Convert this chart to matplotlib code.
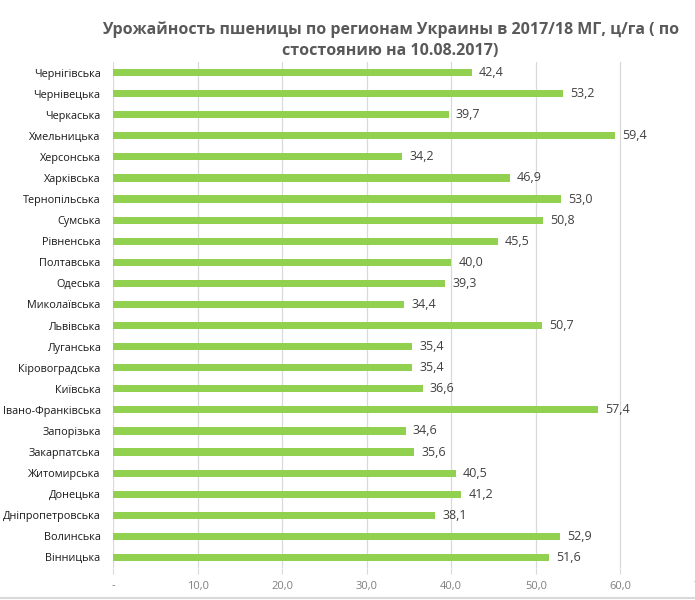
import matplotlib.pyplot as plt
from matplotlib.lines import Line2D

# Регіони (зверху вниз) і врожайність, ц/га
regions = ["Чернігівська", "Чернівецька", "Черкаська", "Хмельницька", "Херсонська",
           "Харківська", "Тернопільська", "Сумська", "Рівненська", "Полтавська",
           "Одеська", "Миколаївська", "Львівська", "Луганська", "Кіровоградська",
           "Київська", "Івано-Франківська", "Запорізька", "Закарпатська", "Житомирська",
           "Донецька", "Дніпропетровська", "Волинська", "Вінницька"]
yields = [42.4, 53.2, 39.7, 59.4, 34.2, 46.9, 53.0, 50.8, 45.5, 40.0, 39.3, 34.4,
          50.7, 35.4, 35.4, 36.6, 57.4, 34.6, 35.6, 40.5, 41.2, 38.1, 52.9, 51.6]
xticks = [0, 10, 20, 30, 40, 50, 60, 70]
xtick_labels = ["-", "10,0", "20,0", "30,0", "40,0", "50,0", "60,0", "70,0"]

plt.rcParams['font.family'] = ['Open Sans', 'DejaVu Sans']

fig = plt.figure(figsize=(6.95, 6.0), dpi=100)
ax = fig.add_axes([113 / 695, 32 / 600, 592 / 695, 506 / 600])

pos = list(range(len(regions)))
ax.barh(pos, yields, height=0.34, color="#92D050", zorder=3)
for p, v in zip(pos, yields):
    ax.text(v + 0.85, p, f"{v:.1f}".replace(".", ","), va="center", ha="left",
            fontsize=9, color="#404040")

ax.set_ylim(len(regions) - 0.5, -0.5)
ax.set_xlim(0, 70)
ax.set_yticks(pos)
ax.set_yticklabels(regions, fontsize=7.8, color="#1a1a1a")
ax.set_xticks(xticks)
ax.set_xticklabels(xtick_labels, fontsize=8, color="#7f7f7f")
ax.tick_params(axis="y", length=0, pad=9)
ax.tick_params(axis="x", length=4, color="#d9d9d9", pad=5)
ax.grid(axis="x", color="#d9d9d9", linewidth=0.9, zorder=0)
for s in ax.spines.values():
    s.set_visible(False)

fig.text(0.562, 0.965, "Урожайность пшеницы по регионам Украины в 2017/18 МГ, ц/га ( по\nстостоянию на 10.08.2017)",
         ha="center", va="top", fontsize=11.5, fontweight="bold", color="#595959",
         linespacing=1.45)
fig.add_artist(Line2D([0, 1], [0.004, 0.004], color="#d9d9d9", linewidth=1.5))

fig.savefig("out.png", dpi=100)
